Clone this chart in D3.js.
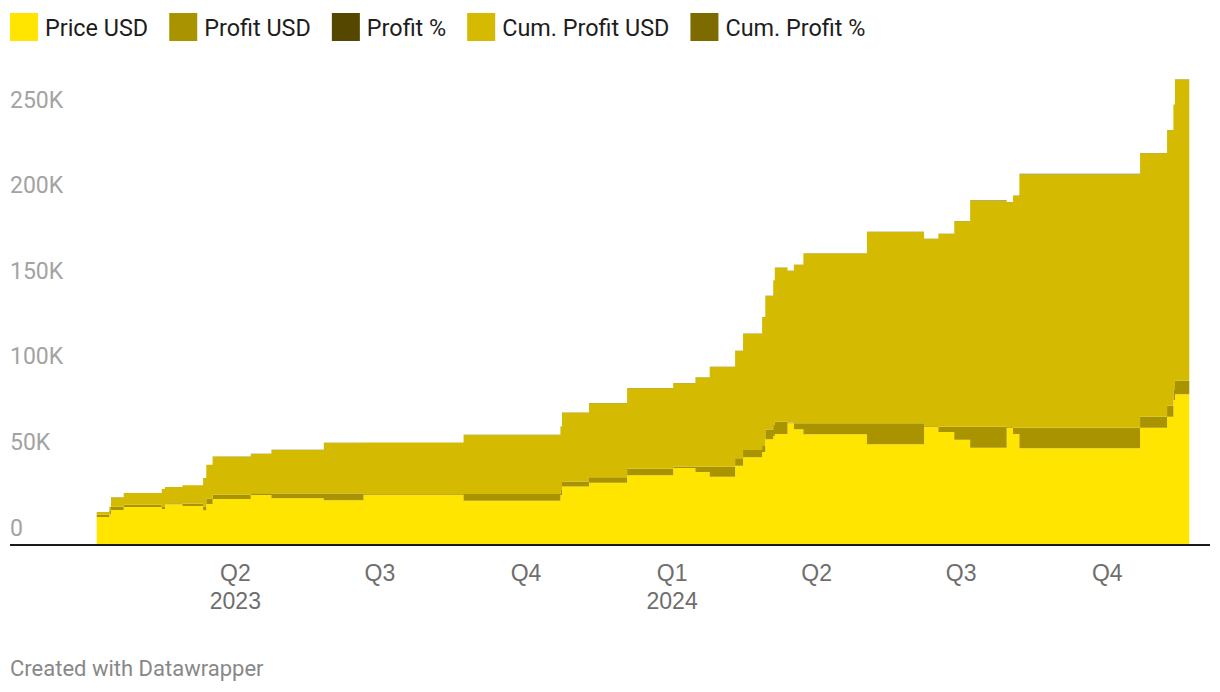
<!DOCTYPE html>
<html>
<head>
<meta charset="utf-8">
<script src="https://cdn.jsdelivr.net/npm/d3@7"></script>
<style>
  html, body { margin: 0; padding: 0; background: #fff; }
  svg { display: block; font-family: Roboto, "Noto Sans", sans-serif; }
</style>
</head>
<body>
<svg id="chart" width="1220" height="692"></svg>
<script>
// ---- data (values in USD) ----
const dates = [
  "2023-01-04","2023-01-12","2023-01-13","2023-01-21","2023-02-14","2023-02-16","2023-02-27",
  "2023-03-12","2023-03-14","2023-03-18","2023-04-11","2023-04-24","2023-05-27","2023-06-21",
  "2023-08-23","2023-10-23","2023-10-24","2023-11-10","2023-12-04","2024-01-02","2024-01-16",
  "2024-01-25","2024-02-10","2024-02-15","2024-02-27","2024-02-29","2024-03-05","2024-03-06",
  "2024-03-14","2024-03-18","2024-03-24","2024-05-03","2024-06-08","2024-06-17","2024-06-27",
  "2024-07-07","2024-07-30","2024-08-03","2024-08-07","2024-10-22","2024-11-08","2024-11-12",
  "2024-11-13","2024-11-22"
];
const priceUSD = [
  16400,17900,20400,22200,21000,23800,22800,20300,24000,26900,29200,27300,26100,29400,
  25900,29200,34100,36400,40700,45000,42600,39900,46300,51200,54300,61700,63700,64800,
  71100,67600,64700,58800,69100,66000,61500,56800,68500,64800,56500,68500,74900,84700,
  88000,88000
];
const profitUSD = [
  1300,1900,1900,1300,1200,600,1300,1900,3100,2500,1000,2700,3900,400,
  3900,2900,3000,3200,3900,800,3100,5800,4300,4300,3500,5800,6400,7200,
  500,3500,6400,12300,400,3100,7600,12300,400,3700,12000,6400,6400,5800,
  7900,7900
];
const profitPct = [
  8.6,11.9,10.3,6.4,6.1,2.6,6.1,10.3,14.8,10.2,3.5,11.0,17.6,1.4,
  17.7,11.0,9.6,9.6,10.6,1.8,7.8,17.0,10.2,9.2,6.9,10.4,11.2,12.5,
  0.7,5.5,11.0,26.5,0.6,4.9,14.1,27.6,0.6,6.1,27.0,10.3,9.3,7.4,
  9.9,9.9
];
const cumProfitUSD = [
  1600,2500,5500,6800,10500,9500,10800,16800,19700,22200,23000,25500,29600,30000,
  34500,37000,40200,43200,47000,48700,52200,58200,62700,67900,75200,77900,84300,90000,
  88500,92500,99100,111700,109200,112600,120000,132000,131300,135500,148000,153900,160900,166500,
  176000,183800
];
const cumProfitPct = [
  9.8,14.0,27.0,30.6,50.0,39.9,47.4,82.8,82.1,82.5,78.8,93.4,113.4,102.0,
  133.2,126.7,117.9,118.7,115.5,108.2,122.5,145.9,135.4,132.6,138.5,126.3,132.3,138.9,
  124.5,136.8,153.2,190.0,158.0,170.6,195.1,232.4,191.7,209.1,262.0,224.7,214.8,196.6,
  200.0,208.9
];
const seriesNames = ["Price USD","Profit USD","Profit %","Cum. Profit USD","Cum. Profit %"];
const seriesColors = ["#ffe500","#a99400","#554700","#d4ba00","#7d6b00"];
const yTicks = [0, 50000, 100000, 150000, 200000, 250000];
const yTickLabels = ["0","50K","100K","150K","200K","250K"];
const xTickDates = ["2023-04-01","2023-07-01","2023-10-01","2024-01-01","2024-04-01","2024-07-01","2024-10-01"];
const xTickLabels = [["Q2","2023"],["Q3"],["Q4"],["Q1","2024"],["Q2"],["Q3"],["Q4"]];

// ---- build table ----
const parse = d3.utcParse("%Y-%m-%d");
const keys = ["price","profit","profitPct","cum","cumPct"];
const rows = dates.map((d, i) => ({
  date: parse(d),
  price: priceUSD[i], profit: profitUSD[i], profitPct: profitPct[i],
  cum: cumProfitUSD[i], cumPct: cumProfitPct[i]
}));

const svg = d3.select("#chart");
const plot = { left: 10, right: 1210, top: 117, bottom: 545 };

const x = d3.scaleUtc()
  .domain(d3.extent(rows, r => r.date))
  .range([96.7, 1189.3]);
const y = d3.scaleLinear().domain([0, 250000]).range([plot.bottom, plot.top]);

const stacked = d3.stack().keys(keys)(rows);
const area = d3.area()
  .curve(d3.curveStepAfter)
  .x(d => x(d.data.date))
  .y0(d => y(d[0]))
  .y1(d => y(d[1]));

svg.append("g").selectAll("path")
  .data(stacked)
  .join("path")
  .attr("d", area)
  .attr("fill", (d, i) => seriesColors[i]);

// y-axis labels
const yAxis = d3.axisLeft(y).tickValues(yTicks).tickFormat((d, i) => yTickLabels[i]).tickSize(0);
const gy = svg.append("g").attr("transform", `translate(${plot.left},0)`).call(yAxis);
gy.select(".domain").remove();
gy.selectAll("text")
  .attr("x", 0).attr("dy", "-10px")
  .attr("text-anchor", "start")
  .attr("fill", "#a3a3a3")
  .style("font-size", "23px")
  .style("font-family", "Roboto");

// baseline
svg.append("line")
  .attr("x1", plot.left).attr("x2", plot.right)
  .attr("y1", y(0)).attr("y2", y(0))
  .attr("stroke", "#1a1a1a").attr("stroke-width", 2);

// x-axis labels
const xAxis = d3.axisBottom(x).tickValues(xTickDates.map(parse)).tickFormat(() => "").tickSize(0);
const gx = svg.append("g").attr("transform", `translate(0,${y(0)})`).call(xAxis);
gx.select(".domain").remove();
gx.selectAll(".tick").each(function(d, i) {
  const t = d3.select(this);
  t.select("text").remove();
  xTickLabels[i].forEach((lab, j) => {
    t.append("text")
      .attr("y", 36 + j * 28)
      .attr("text-anchor", "middle")
      .attr("fill", "#6e6e6e")
      .style("font-size", "23px")
      .text(lab);
  });
});

// legend
const lg = svg.append("g");
let lx = 10;
seriesNames.forEach((name, i) => {
  lg.append("rect").attr("x", lx).attr("y", 13).attr("width", 28).attr("height", 28)
    .attr("fill", seriesColors[i]);
  const t = lg.append("text").attr("x", lx + 35).attr("y", 36)
    .attr("fill", "#1d1d1d").style("font-size", "23.4px").text(name);
  lx += 35 + t.node().getComputedTextLength() + 21;
});

// footer
svg.append("text").attr("x", 10).attr("y", 676)
  .attr("fill", "#888").style("font-size", "22px")
  .text("Created with Datawrapper");
</script>
</body>
</html>
